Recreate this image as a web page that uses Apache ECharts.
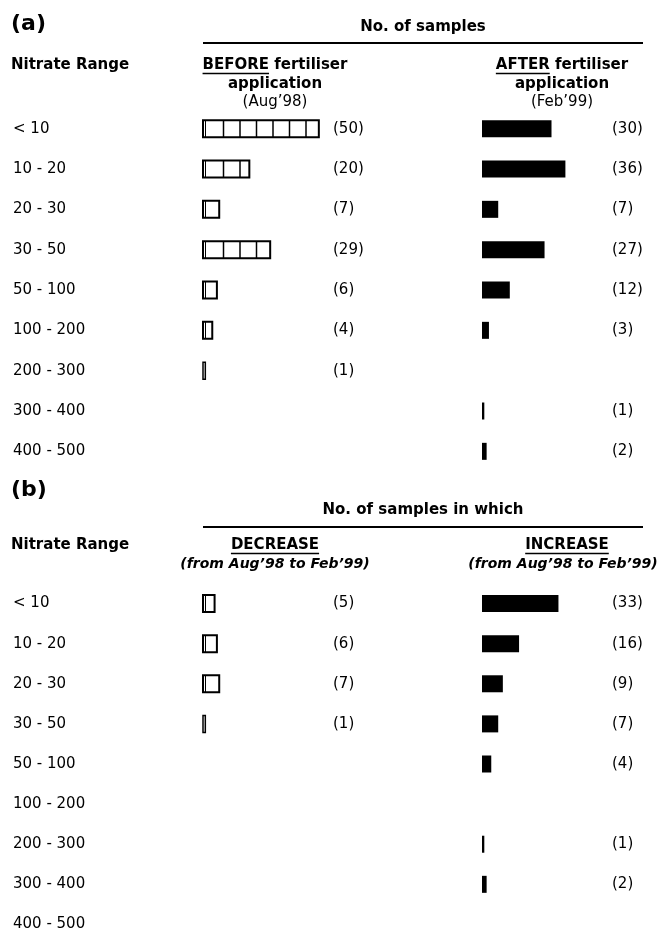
<!DOCTYPE html>
<html>
<head>
<meta charset="utf-8">
<script src="https://cdn.jsdelivr.net/npm/echarts@6/dist/echarts.min.js"></script>
<style>
  html, body { margin: 0; padding: 0; background: #fff; overflow: hidden; }
  #chart { width: 658px; height: 960px; }
</style>
</head>
<body>
<div id="chart"></div>
<script>
// Nitrate concentration classes (rows)
const nitrateRanges = ['< 10', '10 - 20', '20 - 30', '30 - 50', '50 - 100', '100 - 200', '200 - 300', '300 - 400', '400 - 500'];

// (a) number of samples per class
const beforeCounts = [50, 20, 7, 29, 6, 4, 1, 0, 0];   // Aug'98
const afterCounts  = [30, 36, 7, 27, 12, 3, 0, 1, 2];  // Feb'99

// (b) number of samples in which nitrate changed
const decreaseCounts = [5, 6, 7, 1, 0, 0, 0, 0, 0];
const increaseCounts = [33, 16, 9, 7, 4, 0, 1, 2, 0];

const FAMILY = '"DejaVu Sans", sans-serif';
const BOLD = 'bold 15px ' + FAMILY;
const BOLD_IT = 'italic bold 14px ' + FAMILY;
const REG = '15px ' + FAMILY;

const X_MAX = 60;
const BAR_H = 17;
const LABEL_OFFSET = 130;

const measureCtx = document.createElement('canvas').getContext('2d');
function textWidth(t, font) { measureCtx.font = font; return measureCtx.measureText(t).width; }

// Open bars split into cells by vertical rules, with a doubled rule at the start
function hatchedBar(params, api) {
  const v = api.value(0);
  const row = api.value(1);
  const p0 = api.coord([0, row]);
  const p1 = api.coord([v, row]);
  const w = p1[0] - p0[0];
  const x0 = p0[0], y0 = p0[1] - BAR_H / 2;
  const children = [{
    type: 'rect',
    shape: { x: x0, y: y0, width: w, height: BAR_H },
    style: { fill: '#fff', stroke: '#000', lineWidth: w > 4 ? 2 : 1.5 }
  }];
  if (w > 4) {
    children.push({ type: 'line', shape: { x1: x0 + 2.5, y1: y0, x2: x0 + 2.5, y2: y0 + BAR_H }, style: { stroke: '#000', lineWidth: 1 } });
  }
  for (let k = 1; ; k++) {
    const xd = x0 + 4 + k * 16.5;
    if (xd > x0 + w - 4) break;
    children.push({ type: 'line', shape: { x1: xd, y1: y0, x2: xd, y2: y0 + BAR_H }, style: { stroke: '#000', lineWidth: 1.5 } });
  }
  children.push({
    type: 'text',
    x: x0 + LABEL_OFFSET, y: p0[1],
    style: { text: '(' + v + ')', font: REG, fill: '#000', align: 'left', verticalAlign: 'middle' }
  });
  return { type: 'group', children };
}

function hatchedSeries(counts, idx) {
  return {
    type: 'custom',
    xAxisIndex: idx, yAxisIndex: idx,
    renderItem: hatchedBar,
    encode: { x: 0, y: 1 },
    data: counts.map((v, i) => [v, i]).filter(d => d[0] > 0),
    silent: true
  };
}

function solidSeries(counts, idx) {
  return {
    type: 'bar',
    xAxisIndex: idx, yAxisIndex: idx,
    barWidth: BAR_H,
    itemStyle: { color: '#000' },
    data: counts.map(v => (v > 0 ? v : '-')),
    label: {
      show: true,
      position: [LABEL_OFFSET, '50%'],
      align: 'left', verticalAlign: 'middle',
      formatter: p => '(' + p.value + ')',
      fontFamily: FAMILY, fontSize: 15, color: '#000'
    },
    silent: true,
    animation: false
  };
}

const grids = [
  { left: 203, top: 108.5, width: 139, height: 363 },
  { left: 482, top: 108.5, width: 139, height: 363 },
  { left: 203, top: 583.5, width: 139, height: 361 },
  { left: 482, top: 583.5, width: 139, height: 361 }
];

const xAxes = grids.map((g, i) => ({ type: 'value', gridIndex: i, min: 0, max: X_MAX, show: false }));
const yAxes = grids.map((g, i) => ({
  type: 'category', gridIndex: i, data: nitrateRanges, inverse: true,
  axisLine: { show: false }, axisTick: { show: false }, splitLine: { show: false },
  axisLabel: {
    show: i % 2 === 0, align: 'left', margin: 190,
    fontFamily: FAMILY, fontSize: 15, color: '#000'
  }
}));

function txt(x, y, text, font, align) {
  return { type: 'text', x, y, style: { text, font, fill: '#000', align: align || 'center', verticalAlign: 'middle' } };
}
function rule(x1, x2, y, lw) {
  return { type: 'line', shape: { x1, y1: y, x2, y2: y }, style: { stroke: '#000', lineWidth: lw } };
}
// Heading whose first word is underlined
function underlined(cx, y, lead, rest, font) {
  const wl = textWidth(lead, font), wr = textWidth(rest, font);
  const x0 = cx - (wl + wr) / 2;
  return [txt(x0, y, lead + rest, font, 'left'), rule(x0, x0 + wl, y + 8.5, 1.5)];
}

const graphics = [
  txt(11, 24, '(a)', 'bold 22px ' + FAMILY, 'left'),
  txt(423, 27, 'No. of samples', BOLD),
  rule(203, 643, 43, 2),
  txt(11, 65, 'Nitrate Range', BOLD, 'left'),
  ...underlined(275, 65, 'BEFORE', ' fertiliser', BOLD),
  txt(275, 84, 'application', BOLD),
  txt(275, 102, '(Aug\u201998)', REG),
  ...underlined(562, 65, 'AFTER', ' fertiliser', BOLD),
  txt(562, 84, 'application', BOLD),
  txt(562, 102, '(Feb\u201999)', REG),

  txt(11, 490, '(b)', 'bold 22px ' + FAMILY, 'left'),
  txt(423, 510, 'No. of samples in which', BOLD),
  rule(203, 643, 527, 2),
  txt(11, 545, 'Nitrate Range', BOLD, 'left'),
  ...underlined(275, 545, 'DECREASE', '', BOLD),
  txt(275, 564, '(from Aug\u201998 to Feb\u201999)', BOLD_IT),
  ...underlined(567, 545, 'INCREASE', '', BOLD),
  txt(563, 564, '(from Aug\u201998 to Feb\u201999)', BOLD_IT)
];

const chart = echarts.init(document.getElementById('chart'), null, { renderer: 'canvas' });
chart.setOption({
  animation: false,
  backgroundColor: '#fff',
  grid: grids,
  xAxis: xAxes,
  yAxis: yAxes,
  graphic: graphics,
  series: [
    hatchedSeries(beforeCounts, 0),
    solidSeries(afterCounts, 1),
    hatchedSeries(decreaseCounts, 2),
    solidSeries(increaseCounts, 3)
  ]
});
</script>
</body>
</html>
